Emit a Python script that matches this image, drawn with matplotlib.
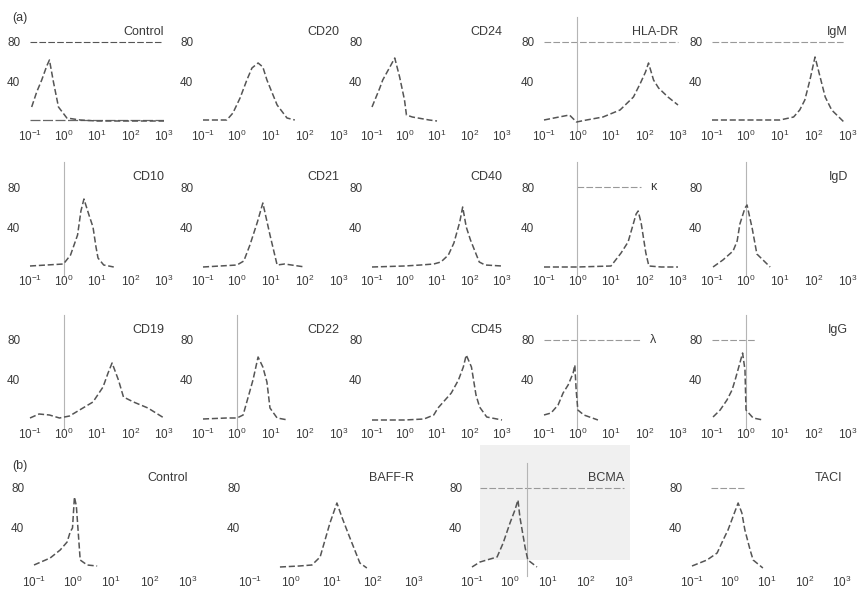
import matplotlib
matplotlib.use("Agg")
import matplotlib.pyplot as plt
from matplotlib.patches import Rectangle
import numpy as np

plt.rcParams["font.family"] = ["Liberation Sans", "DejaVu Sans"]
plt.rcParams["mathtext.default"] = "regular"

# ---- panel labels ----
names_a = [["Control", "CD20", "CD24", "HLA-DR", "IgM"],
           ["CD10", "CD21", "CD40", "κ", "IgD"],
           ["CD19", "CD22", "CD45", "λ", "IgG"]]
names_b = ["Control", "BAFF-R", "BCMA", "TACI"]
yticks = [40, 80]
xticks = [0.1, 1, 10, 100, 1000]
xticklabels = ["$10^{-1}$", "$10^{0}$", "$10^{1}$", "$10^{2}$", "$10^{3}$"]

# ---- histogram traces: log10(fluorescence), events ----
control_a_x = [-0.95, -0.8, -0.65, -0.5, -0.42, -0.3, -0.15, 0.1, 0.5, 1.0, 2.0, 3.0]
control_a_y = [15, 30, 42, 56, 62, 40, 15, 4, 2, 1, 1, 1]
cd20_x = [-1.0, -0.3, -0.12, 0.09, 0.29, 0.44, 0.62, 0.76, 0.88, 1.18, 1.47, 1.7]
cd20_y = [2, 2, 9, 24, 42, 54, 59, 55, 42, 17, 4, 2]
cd24_x = [-1.0, -0.76, -0.67, -0.45, -0.3, -0.15, 0.0, 0.06, 0.24, 0.76, 1.0]
cd24_y = [15, 34, 42, 55, 64, 45, 22, 7, 5, 2, 1]
hladr_x = [-1.0, -0.55, -0.24, -0.03, 0.27, 0.76, 1.27, 1.67, 1.88, 2.03, 2.12, 2.27, 2.42, 2.7, 3.0]
hladr_y = [2, 5, 7, 0, 2, 5, 12, 25, 39, 50, 59, 42, 34, 25, 17]
igm_x = [-1.0, 0.0, 1.0, 1.4, 1.58, 1.73, 1.88, 2.03, 2.33, 2.52, 2.88]
igm_y = [2, 2, 2, 5, 12, 22, 42, 65, 25, 12, 0]

cd10_x = [-1.0, -0.5, 0.0, 0.21, 0.42, 0.52, 0.61, 0.76, 0.88, 0.97, 1.03, 1.2, 1.5]
cd10_y = [1, 2, 3, 12, 32, 56, 68, 52, 40, 20, 9, 2, 0]
cd21_x = [-1.0, -0.5, 0.0, 0.2, 0.38, 0.6, 0.76, 0.97, 1.18, 1.4, 2.0]
cd21_y = [0, 1, 2, 6, 22, 45, 64, 32, 2, 3, 0]
cd40_x = [-1.0, 0.0, 0.5, 0.9, 1.12, 1.35, 1.52, 1.7, 1.79, 1.9, 2.03, 2.3, 2.48, 3.0]
cd40_y = [0, 1, 2, 3, 5, 12, 24, 45, 60, 40, 27, 5, 2, 1]
kappa_x = [-1.0, 0.0, 1.0, 1.3, 1.51, 1.75, 1.81, 1.9, 2.04, 2.13, 2.5, 3.0]
kappa_y = [0, 0, 1, 14, 25, 53, 56, 44, 14, 1, 0, 0]
igd_x = [-0.97, -0.68, -0.38, -0.26, -0.18, -0.03, 0.03, 0.18, 0.32, 0.71]
igd_y = [0, 7, 16, 26, 43, 59, 62, 39, 13, 0]

cd19_x = [-1.0, -0.73, -0.42, -0.12, 0.18, 0.48, 0.88, 1.18, 1.33, 1.45, 1.64, 1.79, 2.09, 2.52, 3.0]
cd19_y = [2, 6, 5, 2, 4, 10, 18, 33, 47, 57, 40, 23, 18, 12, 2]
cd22_x = [-1.0, -0.3, 0.0, 0.18, 0.47, 0.62, 0.76, 0.88, 0.97, 1.18, 1.5]
cd22_y = [1, 2, 2, 5, 40, 63, 53, 38, 12, 2, 0]
cd45_x = [-1.0, 0.0, 0.6, 0.9, 1.03, 1.44, 1.66, 1.81, 1.9, 2.06, 2.2, 2.31, 2.53, 3.0]
cd45_y = [0, 0, 1, 5, 12, 27, 40, 53, 65, 53, 25, 13, 3, 0]
lambda_x = [-1.0, -0.79, -0.58, -0.43, -0.28, -0.13, -0.08, -0.04, 0.01, 0.19, 0.61]
lambda_y = [5, 7, 15, 27, 35, 47, 55, 30, 10, 5, 0]
igg_x = [-0.97, -0.76, -0.56, -0.41, -0.32, -0.18, -0.1, -0.03, 0.0, 0.21, 0.5]
igg_y = [3, 10, 20, 30, 40, 57, 67, 50, 10, 2, 0]

control_b_x = [-1.0, -0.58, -0.32, -0.14, -0.06, 0.0, 0.05, 0.1, 0.2, 0.38, 0.64]
control_b_y = [3, 10, 18, 26, 36, 40, 71, 62, 8, 3, 2]
baffr_x = [-0.27, 0.2, 0.51, 0.71, 0.95, 1.12, 1.24, 1.39, 1.68, 1.85]
baffr_y = [1, 2, 3, 11, 45, 65, 51, 35, 5, 0]
bcma_x = [-1.0, -0.79, -0.34, -0.18, 0.0, 0.13, 0.21, 0.26, 0.4, 0.47, 0.71]
bcma_y = [1, 6, 11, 25, 45, 58, 68, 51, 20, 8, 1]
taci_x = [-1.0, -0.6, -0.33, -0.17, -0.04, 0.09, 0.23, 0.33, 0.41, 0.55, 0.63, 0.89]
taci_y = [2, 8, 15, 28, 38, 51, 65, 55, 38, 18, 8, 0]

traces_a = [[(control_a_x, control_a_y), (cd20_x, cd20_y), (cd24_x, cd24_y), (hladr_x, hladr_y), (igm_x, igm_y)],
            [(cd10_x, cd10_y), (cd21_x, cd21_y), (cd40_x, cd40_y), (kappa_x, kappa_y), (igd_x, igd_y)],
            [(cd19_x, cd19_y), (cd22_x, cd22_y), (cd45_x, cd45_y), (lambda_x, lambda_y), (igg_x, igg_y)]]
traces_b = [(control_b_x, control_b_y), (baffr_x, baffr_y), (bcma_x, bcma_y), (taci_x, taci_y)]

# faint guide lines visible on the scan (log10 extents)
line80 = {("a", 0, 0): (-1, 2.9), ("a", 0, 3): (-1, 3), ("a", 0, 4): (-1, 2.9),
          ("a", 1, 3): (0, 1.9), ("a", 2, 3): (-1, 1.9), ("a", 2, 4): (-1, 0.3),
          ("b", 0, 2): (-0.8, 3), ("b", 0, 3): (-0.5, 0.4)}
vline = {("a", 0, 3): 0, ("a", 1, 0): 0, ("a", 1, 3): 0, ("a", 1, 4): 0,
         ("a", 2, 0): 0, ("a", 2, 1): 0, ("a", 2, 3): 0, ("a", 2, 4): 0,
         ("b", 0, 2): 0.45}

# ---- layout in pixels ----
W, H = 862, 591
PH = 100
left_a = [30, 203, 372, 544, 712]
width_a = [134, 136, 130, 134, 136]
base_a = [122, 267, 420]
left_b = [34, 250, 472, 692]
width_b = [154, 164, 152, 150]
base_b = 568

TXT = "#3a3a3a"
CURVE = "#555555"
fig = plt.figure(figsize=(W / 100, H / 100), dpi=100)

# light scan shading behind BCMA
fig.patches.append(Rectangle((480 / W, 1 - 560 / H), 150 / W, 115 / H,
                             transform=fig.transFigure, fc="#f0f0f0", ec="none", zorder=-5))


def panel(l, b, w, name, tr, key):
    ax = fig.add_axes([l / W, 1 - b / H, w / W, PH / H])
    ax.set_zorder(1)
    ax.patch.set_alpha(0)
    ax.set_xscale("log")
    ax.set_xlim(0.1, 1000)
    ax.set_ylim(0, 100)
    for s in ax.spines.values():
        s.set_visible(False)
    ax.minorticks_off()
    ax.set_xticks(xticks)
    ax.set_xticklabels(xticklabels)
    ax.set_yticks(yticks)
    ax.tick_params(length=0, labelsize=8.5, labelcolor=TXT)
    ax.tick_params(axis="x", pad=5)
    ax.tick_params(axis="y", pad=7)
    if key in line80:
        a, c = line80[key]
        ax.plot([10 ** a, 10 ** c], [80, 80], color="#999" if key != ("a", 0, 0) else "#555",
                lw=0.8, ls=(0, (6, 2)), clip_on=False)
    if key in vline:
        xv = 10 ** vline[key]
        ax.plot([xv, xv], [-8, 105], color="#b5b5b5", lw=0.8, clip_on=False)
    if key == ("a", 0, 0):
        ax.plot([0.1, 1000], [2, 2], color="#666", lw=0.9, ls=(0, (8, 2)))
    x, y = tr
    ax.plot(10 ** np.array(x), y, color=CURVE, lw=1.1, ls=(0, (4, 1.8)), clip_on=False)
    if name in ("κ", "λ"):
        ax.text(10 ** 2.25, 80, name, ha="center", va="center", fontsize=9, color=TXT)
    else:
        ax.text(1.0, 0.9, name, transform=ax.transAxes, ha="right", va="center",
                fontsize=9, color=TXT)
    return ax


for r in range(3):
    for c in range(5):
        panel(left_a[c], base_a[r], width_a[c], names_a[r][c], traces_a[r][c], ("a", r, c))
for c in range(4):
    panel(left_b[c], base_b, width_b[c], names_b[c], traces_b[c], ("b", 0, c))

fig.text(12 / W, 1 - 18 / H, "(a)", fontsize=9, color=TXT, va="center")
fig.text(12 / W, 1 - 466 / H, "(b)", fontsize=9, color=TXT, va="center")

fig.savefig("out.png", dpi=100, facecolor="white")
